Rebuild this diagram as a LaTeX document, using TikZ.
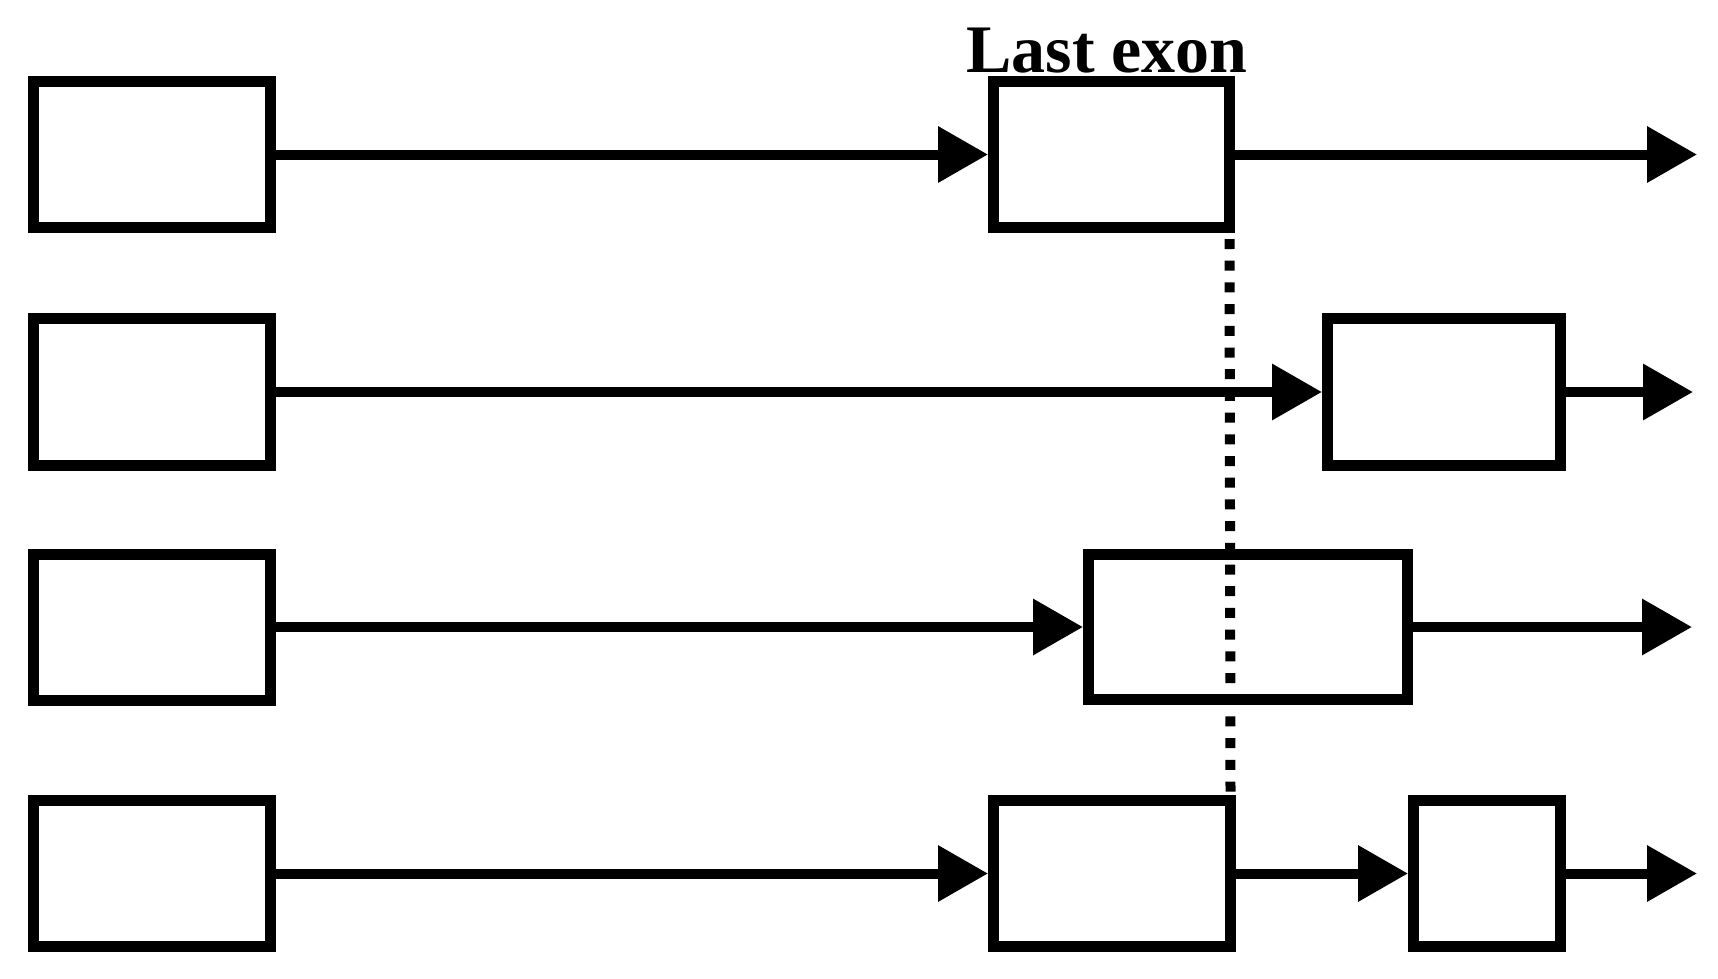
\documentclass[tikz,border=0pt]{standalone}
\usepackage{fontspec}
\setmainfont{Liberation Serif}
\usetikzlibrary{arrows.meta}
\begin{document}
\begin{tikzpicture}[x=1pt,y=-1pt,
  exonbox/.style={draw=black,line width=11pt,inner sep=0pt,fill=white},
  link/.style={line width=10pt,-{Triangle[length=50pt,width=54pt]}},
  guide/.style={line width=10pt,dash pattern=on 10pt off 11.7pt}]
\useasboundingbox (0,0) rectangle (1718,978);
% row 1
\node[exonbox,minimum width=237pt,minimum height=146pt] (a1) at (152,154.5) {};
\node[exonbox,minimum width=236pt,minimum height=146pt] (a2) at (1111.5,154.5) {};
\coordinate (a3) at (1697,154.5);
% row 2
\node[exonbox,minimum width=237pt,minimum height=147pt] (b1) at (152,392) {};
\node[exonbox,minimum width=233pt,minimum height=147pt] (b2) at (1444,392) {};
\coordinate (b3) at (1693,392);
% row 3
\node[exonbox,minimum width=237pt,minimum height=146pt] (c1) at (152,627) {};
\node[exonbox,minimum width=319pt,minimum height=145pt] (c2) at (1248,627) {};
\coordinate (c3) at (1692,627);
% row 4
\node[exonbox,minimum width=237pt,minimum height=146pt] (d1) at (152,873.5) {};
\node[exonbox,minimum width=237pt,minimum height=146pt] (d2) at (1112,873.5) {};
\node[exonbox,minimum width=147pt,minimum height=146pt] (d3) at (1487,873.5) {};
\coordinate (d4) at (1697,873.5);
% label
\node[anchor=base west,inner sep=0pt,font=\bfseries\fontsize{68}{72}\selectfont] (lbl) at (966,72) {Last exon};
% connectors
\draw[link] (a1.east) -- (a2.west);
\draw[link] (a2.east) -- (a3);
\draw[link] (b1.east) -- (b2.west);
\draw[link] (b2.east) -- (b3);
\draw[link] (c1.east) -- (c2.west);
\draw[link] (c2.east) -- (c3);
\draw[link] (d1.east) -- (d2.west);
\draw[link] (d2.east) -- (d3.west);
\draw[link] (d3.east) -- (d4);
% guide line
\draw[guide] ([xshift=-5.5pt,yshift=-6pt]a2.south east) -- ([xshift=-5.5pt]d2.north east);
\end{tikzpicture}
\end{document}
